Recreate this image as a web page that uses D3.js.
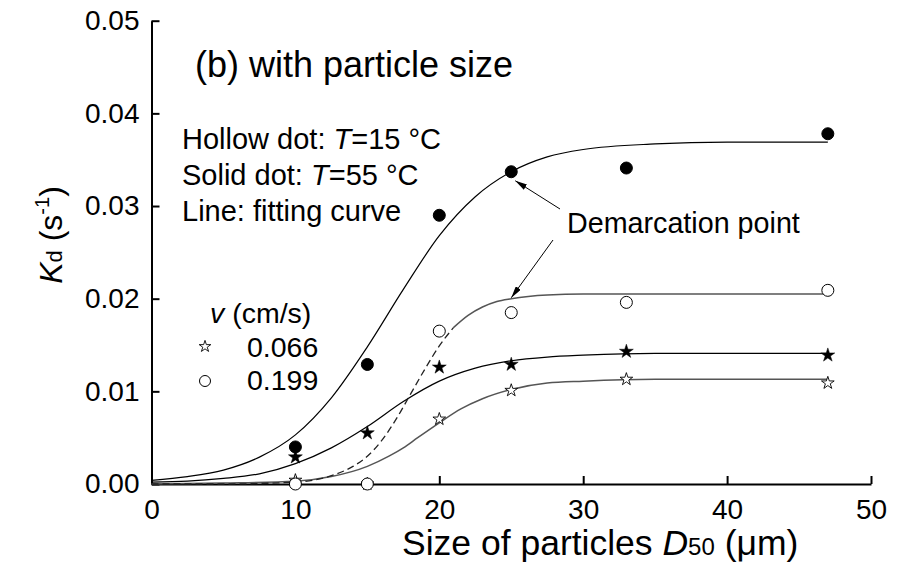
<!DOCTYPE html>
<html>
<head>
<meta charset="utf-8">
<script src="https://cdn.jsdelivr.net/npm/d3@7"></script>
<style>
  html, body { margin: 0; padding: 0; background: #fff; }
  svg { display: block; font-family: Arial, "Liberation Sans", Helvetica, sans-serif; }
</style>
</head>
<body>
<svg id="chart" width="897" height="567"></svg>
<script>
// Measured particle sizes (D50, µm) and decay constants Kd (1/s)
const sizes = [10, 15, 20, 25, 33, 47];
const kdSolidCircle = [0.0040, 0.0129, 0.0290, 0.0337, 0.0341, 0.0378]; // 55 °C, v = 0.199
const kdHollowCircle = [0.0000, 0.0000, 0.0165, 0.0185, 0.0196, 0.0209]; // 15 °C, v = 0.199
const kdSolidStar = [0.0029, 0.0055, 0.0126, 0.0129, 0.0143, 0.0139];   // 55 °C, v = 0.066
const kdHollowStar = [0.0004, 0.0000, 0.0070, 0.0101, 0.0113, 0.0109];  // 15 °C, v = 0.066

// Fitting curves, sampled along D50
const fitXSolidCircle = [0, 2.5, 5, 7.5, 10, 12.5, 15, 17.5, 20, 22.5, 25, 27.5, 30, 35, 40, 47];
const fitSolidCircle = [0.0004, 0.0008, 0.0015, 0.0029, 0.0053, 0.0093, 0.0148, 0.0210, 0.0268, 0.0310, 0.0337, 0.0353, 0.0361, 0.0367, 0.0369, 0.0369];

const fitXSolidStar = [0, 2.5, 5, 7.5, 10, 12.5, 15, 17.5, 20, 22.5, 25, 27.5, 30, 35, 40, 47];
const fitSolidStar = [0.0002, 0.0003, 0.0006, 0.0011, 0.0022, 0.0039, 0.0062, 0.0089, 0.0111, 0.0125, 0.0133, 0.0137, 0.0139, 0.0141, 0.0141, 0.0141];

const fitXHollowCircle = [0, 5, 10, 12.5, 14, 15, 16, 17, 18, 19, 20, 21, 22, 23, 24, 25, 27.5, 30, 35, 47];
const fitHollowCircle = [0.0000, 0.0000, 0.0002, 0.0009, 0.0019, 0.0030, 0.0047, 0.0070, 0.0097, 0.0124, 0.0149, 0.0169, 0.0182, 0.0191, 0.0197, 0.0200, 0.0204, 0.0205, 0.0205, 0.0205];
const dashedUpTo = 21; // lower part of the 15 °C / 0.199 curve is dashed

const fitXHollowStar = [0, 5, 10, 12.5, 15, 16.5, 17.5, 18.5, 20, 21.5, 23, 25, 27.5, 30, 35, 47];
const fitHollowStar = [0.0000, 0.0001, 0.0003, 0.0008, 0.0019, 0.0030, 0.0039, 0.0050, 0.0066, 0.0081, 0.0092, 0.0102, 0.0109, 0.0111, 0.0113, 0.0113];

const xTicks = [0, 10, 20, 30, 40, 50];
const yTicks = [0, 0.01, 0.02, 0.03, 0.04, 0.05];
const velocityLabels = ["0.066", "0.199"];

const svg = d3.select("#chart");
const plotLeft = 151.5, plotRight = 871, plotTop = 20.7, plotBottom = 484;

const x = d3.scaleLinear().domain([0, 50]).range([plotLeft, plotRight]);
const y = d3.scaleLinear().domain([0, 0.05]).range([plotBottom, plotTop]);

// Axes: ticks point into the plot
const xAxis = d3.axisBottom(x).tickValues(xTicks).tickFormat(d3.format("d"))
  .tickSizeInner(-8).tickSizeOuter(0).tickPadding(15);
const yAxis = d3.axisLeft(y).tickValues(yTicks).tickFormat(d3.format(".2f"))
  .tickSizeInner(-8).tickSizeOuter(0).tickPadding(12);

const gx = svg.append("g").attr("transform", `translate(0,${plotBottom})`).call(xAxis);
const gy = svg.append("g").attr("transform", `translate(${plotLeft},0)`).call(yAxis);
[gx, gy].forEach(g => {
  g.select(".domain").attr("stroke", "#000").attr("stroke-width", 2);
  g.selectAll(".tick line").attr("stroke", "#000").attr("stroke-width", 2);
  g.selectAll(".tick text").attr("fill", "#000").attr("font-size", 28)
    .attr("font-family", "Arial, 'Liberation Sans', sans-serif");
});

// Fitting curves
const line = d3.line().x(d => x(d[0])).y(d => y(d[1])).curve(d3.curveMonotoneX);
const curves = svg.append("g").attr("fill", "none");

curves.append("path")
  .attr("d", line(d3.zip(fitXSolidCircle, fitSolidCircle)))
  .attr("stroke", "#000").attr("stroke-width", 1.2);
curves.append("path")
  .attr("d", line(d3.zip(fitXSolidStar, fitSolidStar)))
  .attr("stroke", "#000").attr("stroke-width", 1.2);
curves.append("path")
  .attr("d", line(d3.zip(fitXHollowStar, fitHollowStar)))
  .attr("stroke", "#555").attr("stroke-width", 1.5);

const hcPts = d3.zip(fitXHollowCircle, fitHollowCircle);
curves.append("path")
  .attr("d", line(hcPts.filter(d => d[0] <= dashedUpTo)))
  .attr("stroke", "#222").attr("stroke-width", 1.3).attr("stroke-dasharray", "7,4");
curves.append("path")
  .attr("d", line(hcPts.filter(d => d[0] >= dashedUpTo)))
  .attr("stroke", "#555").attr("stroke-width", 1.5);

// Markers
const star = d3.symbol().type(d3.symbolStar);
const marks = svg.append("g");
function drawStars(values, filled, size) {
  marks.selectAll(null)
    .data(d3.zip(sizes, values))
    .join("path")
    .attr("transform", d => `translate(${x(d[0])},${y(d[1])})`)
    .attr("d", star.size(size)())
    .attr("fill", filled ? "#000" : "#fff")
    .attr("stroke", "#000").attr("stroke-width", filled ? 0.5 : 0.9);
}
function drawCircles(values, filled) {
  marks.selectAll(null)
    .data(d3.zip(sizes, values))
    .join("circle")
    .attr("cx", d => x(d[0])).attr("cy", d => y(d[1]))
    .attr("r", 6)
    .attr("fill", filled ? "#000" : "#fff")
    .attr("stroke", "#000").attr("stroke-width", 1);
}
drawStars(kdHollowStar, false, 50);
drawCircles(kdHollowCircle, false);
drawStars(kdSolidStar, true, 60);
drawCircles(kdSolidCircle, true);

// Panel title and notes
svg.append("text").attr("x", 195).attr("y", 77).attr("font-size", 36)
  .text("(b) with particle size");

const notes = svg.append("g").attr("font-size", 29);
const n1 = notes.append("text").attr("x", 182).attr("y", 149);
n1.append("tspan").text("Hollow dot: ");
n1.append("tspan").attr("font-style", "italic").text("T");
n1.append("tspan").text("=15 °C");
const n2 = notes.append("text").attr("x", 182).attr("y", 185);
n2.append("tspan").text("Solid dot: ");
n2.append("tspan").attr("font-style", "italic").text("T");
n2.append("tspan").text("=55 °C");
notes.append("text").attr("x", 182).attr("y", 221).text("Line: fitting curve");

// Velocity legend
const lg = svg.append("g").attr("font-size", 28.5);
const lt = lg.append("text").attr("x", 210).attr("y", 323);
lt.append("tspan").attr("font-style", "italic").text("v");
lt.append("tspan").text(" (cm/s)");
lg.append("path").attr("transform", "translate(205,346.5)")
  .attr("d", star.size(42)()).attr("fill", "#fff").attr("stroke", "#000").attr("stroke-width", 0.9);
lg.append("circle").attr("cx", 205).attr("cy", 381).attr("r", 5.5)
  .attr("fill", "#fff").attr("stroke", "#000").attr("stroke-width", 1);
lg.append("text").attr("x", 247).attr("y", 357).text(velocityLabels[0]);
lg.append("text").attr("x", 247).attr("y", 390).text(velocityLabels[1]);

// Demarcation annotation
svg.append("defs").append("marker")
  .attr("id", "arrowhead").attr("viewBox", "0 0 12 6")
  .attr("refX", 12).attr("refY", 3)
  .attr("markerWidth", 12).attr("markerHeight", 6)
  .attr("markerUnits", "userSpaceOnUse").attr("orient", "auto")
  .append("path").attr("d", "M0,0 L12,3 L0,6 Z").attr("fill", "#000");

svg.append("text").attr("x", 567).attr("y", 233).attr("font-size", 28.7)
  .text("Demarcation point");
svg.append("line")
  .attr("x1", 560).attr("y1", 209).attr("x2", x(25) + 4).attr("y2", y(0.0337) + 9)
  .attr("stroke", "#000").attr("stroke-width", 1).attr("marker-end", "url(#arrowhead)");
svg.append("line")
  .attr("x1", 553).attr("y1", 240).attr("x2", x(25)).attr("y2", y(0.0201))
  .attr("stroke", "#000").attr("stroke-width", 1).attr("marker-end", "url(#arrowhead)");

// Axis titles
const xt = svg.append("text").attr("x", 402).attr("y", 555).attr("font-size", 35.5);
xt.append("tspan").text("Size of particles ");
xt.append("tspan").attr("font-style", "italic").text("D");
xt.append("tspan").attr("font-size", 24).text("50");
xt.append("tspan").text(" (μm)");

const yt = svg.append("text").attr("transform", "translate(62,235) rotate(-90)")
  .attr("text-anchor", "middle").attr("font-size", 32);
yt.append("tspan").attr("font-style", "italic").text("K");
yt.append("tspan").attr("font-size", 22).text("d");
yt.append("tspan").text(" (s");
yt.append("tspan").attr("font-size", 20).attr("dy", -13).text("-1");
yt.append("tspan").attr("dy", 13).text(")");
</script>
</body>
</html>
